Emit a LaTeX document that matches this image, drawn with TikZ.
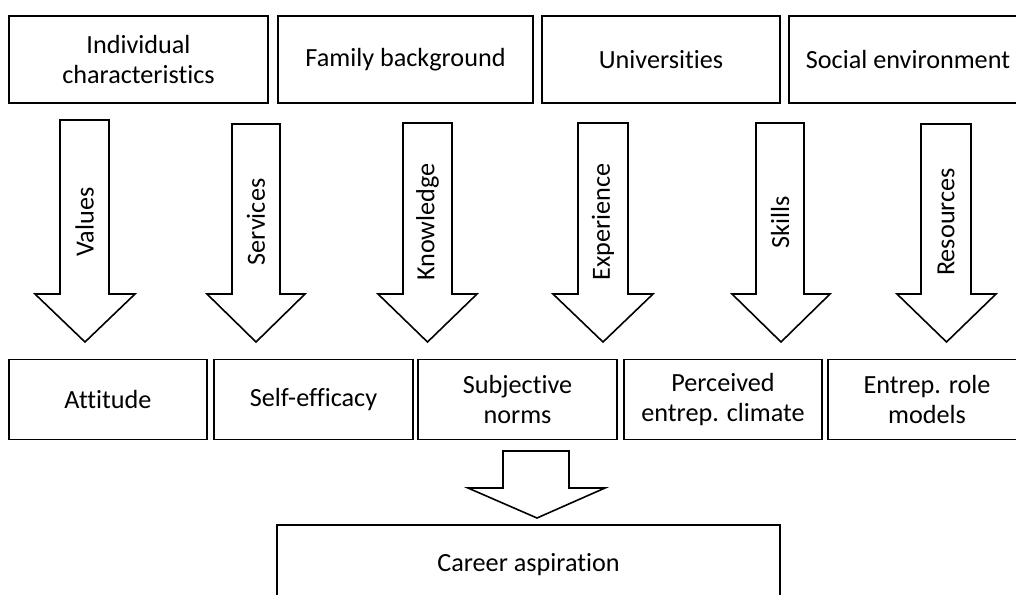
\documentclass[tikz,border=0pt]{standalone}
\usepackage{fontspec}
\setmainfont{Carlito}[Ligatures=NoCommon]
\tikzset{
  box/.style={draw,line width=1.6pt,align=center,inner sep=0pt},
  blockarrow/.style={draw,line width=1.6pt,fill=white},
}
\begin{document}
\begin{tikzpicture}[x=1pt,y=-1pt]
\fontsize{26.2}{30}\selectfont
\useasboundingbox (0,0) rectangle (1016,594);
% sources
\foreach \n/\cx/\w/\txt in {ind/138.5/259/{Individual\\characteristics},fam/405.5/255/{Family background},uni/661/238/Universities,soc/908/238/{Social environment}}{
	\node[box,minimum width=\w pt,minimum height=87pt] (\n) at (\cx,59.5) {\txt};}
% factors
\foreach \n/\cx/\w/\txt in {att/108/198/Attitude,eff/313.5/199/Self-efficacy,sub/517.5/199/{Subjective\\norms},cli/723/198/{Perceived\\entrep. climate},rol/927/198/{Entrep. role\\models}}{
	\node[box,minimum width=\w pt,minimum height=80pt] (\n) at (\cx,399.5) {\txt};}
% block arrows
\foreach \n/\sl/\sr/\hl/\hr/\t/\txt in {val/60/109/35/135/120/Values,ser/232/280/207/305/124/Services,kno/403/452/378/477/123/Knowledge,exp/578/628/553/653/123/Experience,ski/756/804/732/830/123/Skills,res/921/971/897/996/124/Resources}{
	\draw[blockarrow] (\sl,\t) -- (\sr,\t) -- (\sr,294) -- (\hr,294) -- ({(\hl+\hr)/2},342) -- (\hl,294) -- (\sl,294) -- cycle;
	\node[rotate=90] (\n) at ({(\sl+\sr)/2},222) {\txt};}
\draw[blockarrow] (503,451) -- (569,451) -- (569,488) -- (605,488) -- (537,518) -- (468,488) -- (503,488) -- cycle;
% outcome
\node[box,minimum width=503pt,minimum height=80pt] (car) at (528.5,565) {Career aspiration};
\end{tikzpicture}
\end{document}
